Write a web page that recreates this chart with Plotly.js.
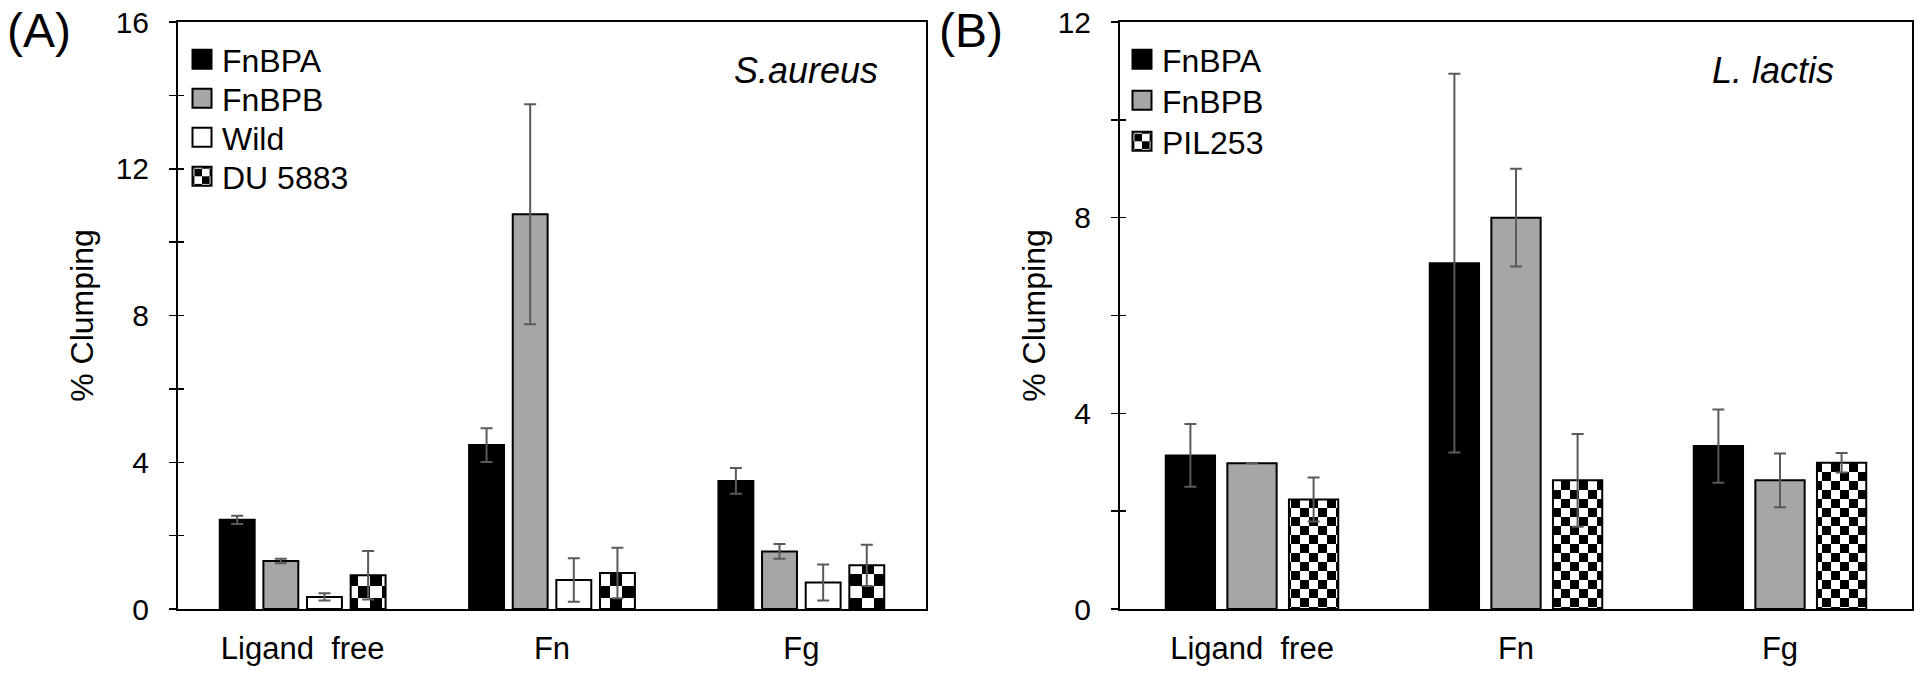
<!DOCTYPE html>
<html>
<head>
<meta charset="utf-8">
<script src="https://cdn.plot.ly/plotly-3.0.1.min.js"></script>
<style>
  html, body { margin: 0; padding: 0; background: #ffffff; }
  #chart { width: 1920px; height: 678px; }
</style>
</head>
<body>
<div id="chart"></div>
<script>
// ---------- data ----------
const categories = ["Ligand\u00a0 free", "Fn", "Fg"];

// Panel A: S. aureus
const saNames = ["FnBPA", "FnBPB", "Wild", "DU 5883"];
const saFnBPA = [2.43, 4.47, 3.49];
const saFnBPAErr = [0.11, 0.46, 0.35];
const saFnBPB = [1.31, 10.76, 1.57];
const saFnBPBErr = [0.06, 3.0, 0.2];
const saWild = [0.33, 0.79, 0.72];
const saWildErr = [0.1, 0.59, 0.49];
const saDU = [0.92, 0.98, 1.19];
const saDUErr = [0.66, 0.69, 0.56];

// Panel B: L. lactis
const llNames = ["FnBPA", "FnBPB", "PIL253"];
const llFnBPA = [3.14, 7.07, 3.33];
const llFnBPAErr = [0.64, 3.87, 0.75];
const llFnBPB = [2.98, 8.0, 2.63];
const llFnBPBErr = [0.0, 1.0, 0.55];
const llPIL = [2.24, 2.63, 2.99];
const llPILErr = [0.45, 0.95, 0.2];

const yTicksA = [0, 2, 4, 6, 8, 10, 12, 14, 16];
const yTickTextA = ["0", "", "4", "", "8", "", "12", "", "16"];
const yTicksB = [0, 2, 4, 6, 8, 10, 12];
const yTickTextB = ["0", "", "4", "", "8", "", "12"];

// ---------- styling ----------
const FONT = "Liberation Sans, Arial, Helvetica, sans-serif";
const GRAY = "#a6a6a6";
const ERRC = "#5a5a5a";

function bar(name, y, err, fill, xa, ya, legend, checker, size, group) {
  const t = {
    type: "bar",
    name: name,
    x: categories,
    y: y,
    xaxis: xa,
    yaxis: ya,
    legend: legend,
    legendgroup: group,
    marker: {
      color: fill,
      line: { color: "#000000", width: 2 }
    },
    error_y: {
      type: "data",
      array: err,
      visible: true,
      color: ERRC,
      thickness: 2,
      width: 6
    },
    hoverinfo: "skip"
  };
  if (checker) {
    t.marker.pattern = {
      shape: "+",
      fgcolor: "#000000",
      bgcolor: "#ffffff",
      size: size,
      solidity: 0.5,
      fillmode: "replace"
    };
  }
  return t;
}

const data = [
  bar(saNames[0], saFnBPA, saFnBPAErr, "#000000", "x", "y", "legend", false, 0, "a1"),
  bar(saNames[1], saFnBPB, saFnBPBErr, GRAY, "x", "y", "legend", false, 0, "a2"),
  bar(saNames[2], saWild, saWildErr, "#ffffff", "x", "y", "legend", false, 0, "a3"),
  bar(saNames[3], saDU, saDUErr, "#ffffff", "x", "y", "legend", true, 24, "a4"),
  bar(llNames[0], llFnBPA, llFnBPAErr, "#000000", "x2", "y2", "legend2", false, 0, "b1"),
  bar(llNames[1], llFnBPB, llFnBPBErr, GRAY, "x2", "y2", "legend2", false, 0, "b2"),
  bar(llNames[2], llPIL, llPILErr, "#ffffff", "x2", "y2", "legend2", true, 18, "b3")
];

function yAxis(range, vals, text, anchor, standoff) {
  return {
    domain: [0, 1],
    anchor: anchor,
    range: range,
    automargin: false,
    tickmode: "array",
    tickvals: vals,
    ticktext: text,
    ticks: "outside",
    ticklen: 7,
    tickwidth: 1.5,
    tickcolor: "#000000",
    showgrid: false,
    zeroline: false,
    showline: true,
    linecolor: "#000000",
    linewidth: 2,
    mirror: true,
    tickfont: { family: FONT, size: 30, color: "#000000" },
    ticklabelstandoff: 14,
    title: {
      text: "% Clumping",
      font: { family: FONT, size: 32, color: "#000000" },
      standoff: standoff
    },
    fixedrange: true
  };
}

function xAxis(domain, anchor) {
  return {
    domain: domain,
    anchor: anchor,
    type: "category",
    automargin: false,
    tickangle: 0,
    showgrid: false,
    zeroline: false,
    showline: true,
    linecolor: "#000000",
    linewidth: 2,
    mirror: true,
    ticks: "",
    tickfont: { family: FONT, size: 31, color: "#000000" },
    ticklabelstandoff: 11,
    fixedrange: true
  };
}

// inside tick overlays, so ticks cross the axis line
function innerTicks(range, vals, overlay, anchor) {
  return {
    overlaying: overlay,
    anchor: anchor,
    range: range,
    automargin: false,
    tickmode: "array",
    tickvals: vals,
    ticks: "inside",
    ticklen: 6,
    tickwidth: 1.5,
    tickcolor: "#000000",
    showticklabels: false,
    showgrid: false,
    zeroline: false,
    showline: false,
    fixedrange: true
  };
}

const legendCommon = {
  bgcolor: "rgba(0,0,0,0)",
  borderwidth: 0,
  traceorder: "normal",
  xref: "paper",
  yref: "paper",
  xanchor: "left",
  yanchor: "top",
  itemclick: false,
  itemdoubleclick: false
};

const layout = {
  width: 1920,
  height: 678,
  autosize: false,
  paper_bgcolor: "#ffffff",
  plot_bgcolor: "#ffffff",
  margin: { l: 0, r: 0, t: 22, b: 69, autoexpand: false },
  barmode: "group",
  bargap: 0.3,
  bargroupgap: 0.2,
  font: { family: FONT, color: "#000000" },
  xaxis: xAxis([178 / 1920, 926 / 1920], "y"),
  yaxis: yAxis([0, 16], yTicksA, yTickTextA, "x", 12),
  yaxis3: innerTicks([0, 16], yTicksA, "y", "x"),
  xaxis2: xAxis([1120 / 1920, 1912 / 1920], "y2"),
  yaxis2: yAxis([0, 12], yTicksB, yTickTextB, "x2", 2),
  yaxis4: innerTicks([0, 12], yTicksB, "y2", "x2"),
  legend: Object.assign({}, legendCommon, {
    x: 182 / 1920, y: (609 - 32) / 587,
    font: { family: FONT, size: 32, color: "#000000" },
    tracegroupgap: 0
  }),
  legend2: Object.assign({}, legendCommon, {
    x: 1122 / 1920, y: (609 - 32) / 587,
    font: { family: FONT, size: 32, color: "#000000" },
    tracegroupgap: 0
  }),
  annotations: [
    { text: "<i>S.aureus</i>", xref: "x domain", yref: "y domain", x: 0.84, y: 0.918,
      xanchor: "center", yanchor: "middle", showarrow: false,
      font: { family: FONT, size: 36, color: "#000000" } },
    { text: "<i>L. lactis</i>", xref: "x2 domain", yref: "y2 domain", x: 0.825, y: 0.918,
      xanchor: "center", yanchor: "middle", showarrow: false,
      font: { family: FONT, size: 36, color: "#000000" } },
    { text: "(A)", xref: "paper", yref: "paper", x: 5 / 1920, y: (609 - 30) / 587,
      xanchor: "left", yanchor: "middle", showarrow: false,
      font: { family: FONT, size: 48, color: "#000000" } },
    { text: "(B)", xref: "paper", yref: "paper", x: 937 / 1920, y: (609 - 30) / 587,
      xanchor: "left", yanchor: "middle", showarrow: false,
      font: { family: FONT, size: 48, color: "#000000" } }
  ],
  showlegend: true
};

// invisible carrier traces so the overlay tick axes exist
data.push({ type: "scatter", x: [categories[0]], y: [0], xaxis: "x", yaxis: "y3",
  mode: "none", showlegend: false, hoverinfo: "skip" });
data.push({ type: "scatter", x: [categories[0]], y: [0], xaxis: "x2", yaxis: "y4",
  mode: "none", showlegend: false, hoverinfo: "skip" });

const NS = "http://www.w3.org/2000/svg";

// bigger legend swatches (2x2 checker for the patterned entry)
function enlargeSwatches() {
  document.querySelectorAll("#chart .legendpoints path").forEach(function (path) {
    path.setAttribute("d", "M9.5,9.5H-9.5V-9.5H9.5Z");
    const fill = path.style.fill || "";
    const m = fill.match(/#([^"')]+)/);
    if (m) {
      const p = document.getElementById(m[1]);
      if (p) { p.setAttribute("width", 19); p.setAttribute("height", 19); }
    }
  });
}

// tighter legend row spacing as in the reference
function respaceLegend(cls, spacing) {
  const lg = document.querySelector("#chart g." + cls);
  if (!lg) return;
  const items = lg.querySelectorAll("g.traces");
  let y0 = null;
  items.forEach(function (g, i) {
    const tr = g.getAttribute("transform") || "";
    const m = tr.match(/translate\(\s*([-\d.]+)[ ,]+([-\d.]+)\s*\)/);
    if (!m) return;
    if (y0 === null) y0 = parseFloat(m[2]);
    g.setAttribute("transform", "translate(" + m[1] + "," + (y0 + i * spacing) + ")");
  });
}

function checkerize() {
  document.querySelectorAll("#chart pattern").forEach(function (p) {
    const w = parseFloat(p.getAttribute("width")) || 18;
    const h = parseFloat(p.getAttribute("height")) || 18;
    while (p.firstChild) p.removeChild(p.firstChild);
    const bg = document.createElementNS(NS, "rect");
    bg.setAttribute("x", 0); bg.setAttribute("y", 0);
    bg.setAttribute("width", w); bg.setAttribute("height", h);
    bg.setAttribute("fill", "#ffffff");
    p.appendChild(bg);
    [[0, 0], [w / 2, h / 2]].forEach(function (o) {
      const r = document.createElementNS(NS, "rect");
      r.setAttribute("x", o[0]); r.setAttribute("y", o[1]);
      r.setAttribute("width", w / 2); r.setAttribute("height", h / 2);
      r.setAttribute("fill", "#000000");
      p.appendChild(r);
    });
  });
}

Plotly.newPlot("chart", data, layout, { displayModeBar: false, staticPlot: true })
  .then(function () {
    enlargeSwatches();
    checkerize();
    respaceLegend("legend", 39);
    respaceLegend("legend2", 41);
  });
</script>
</body>
</html>
